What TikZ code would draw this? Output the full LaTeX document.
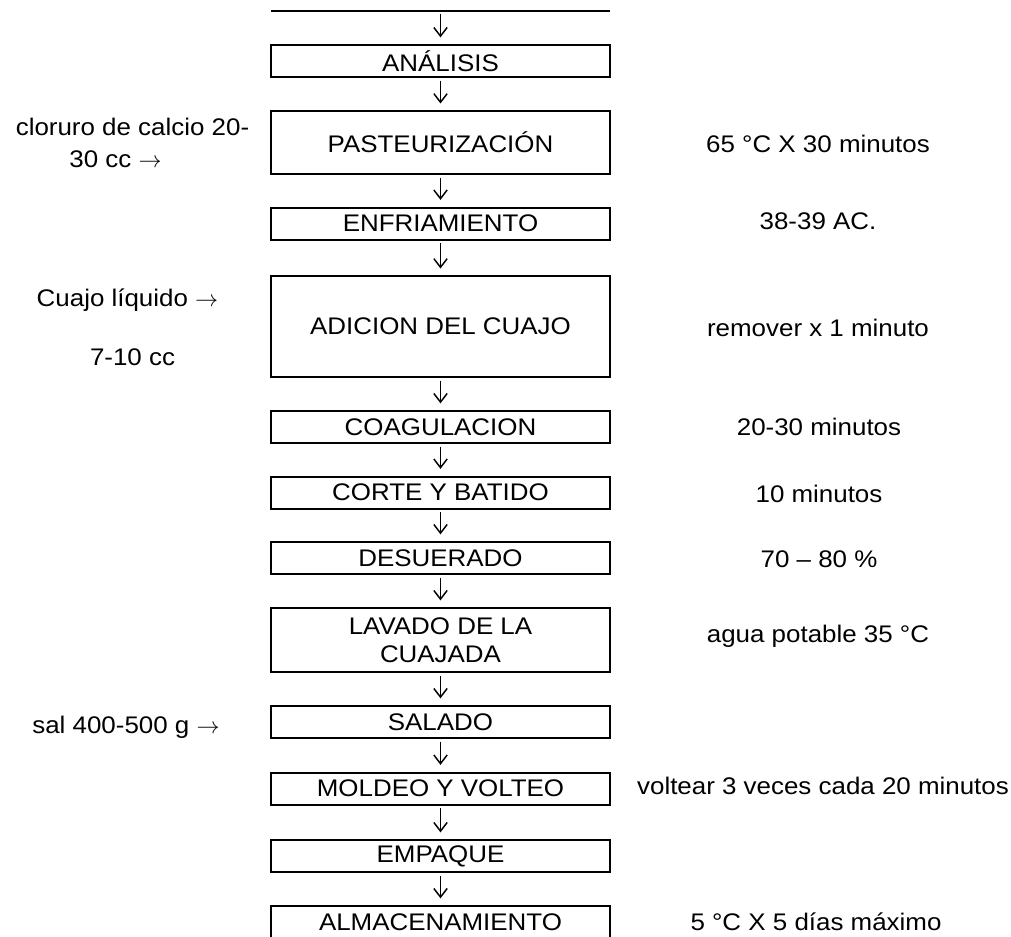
\documentclass[tikz,border=0pt]{standalone}
\usepackage{fontspec}
\setmainfont{Liberation Sans}[FakeStretch=1.08]
\usepackage{tikz}
\usetikzlibrary{arrows.meta}

\tikzset{
    paso/.style={draw, line width=1.5pt, minimum width=254pt, minimum height=24pt, inner sep=0pt, align=center},
    flecha/.style={-{Straight Barb[length=6.5pt, width=10pt]}, line width=1.1pt, shorten <=2pt, shorten >=5pt},
    nota/.style={inner sep=0pt, align=center}
}

\begin{document}
\begin{tikzpicture}[x=0.75pt, y=-0.75pt, font=\fontsize{18}{21}\selectfont]
\useasboundingbox (0,0) rectangle (1011,936);
% cadena de pasos
\draw[line width=1.5pt] (271,11) -- (610,11);
\coordinate (inicio) at (440.5,11);
\node[paso] (analisis) at (440.5,61) {ANÁLISIS};
\node[paso, minimum height=47pt] (pasteur) at (440.5,142.5) {PASTEURIZACIÓN};
\node[paso] (enfriam) at (440.5,223.5) {ENFRIAMIENTO};
\node[paso, minimum height=75.5pt] (cuajo) at (440.5,326.5) {ADICION DEL CUAJO};
\node[paso] (coagul) at (440.5,427) {COAGULACION};
\node[paso] (corte) at (440.5,492.5) {CORTE Y BATIDO};
\node[paso] (desuer) at (440.5,558) {DESUERADO};
\node[paso, minimum height=48pt] (lavado) at (440.5,640) {LAVADO DE LA\\CUAJADA};
\node[paso] (salado) at (440.5,722) {SALADO};
\node[paso] (moldeo) at (440.5,788.5) {MOLDEO Y VOLTEO};
\node[paso] (empaque) at (440.5,856) {EMPAQUE};
\node[paso] (almacen) at (440.5,922) {ALMACENAMIENTO};
\foreach \a/\b in {inicio/analisis, analisis/pasteur, pasteur/enfriam, enfriam/cuajo,
    cuajo/coagul, coagul/corte, corte/desuer, desuer/lavado, lavado/salado,
    salado/moldeo, moldeo/empaque, empaque/almacen} {
    \draw[flecha] (\a) -- (\b);
}
% insumos
\node[nota] (calcio) at (132.5,127) {cloruro de calcio 20-};
\node[nota] (calcioB) at (115.5,159) {30 cc $\rightarrow$};
\node[nota] (liquido) at (127.5,300) {Cuajo líquido $\rightarrow$};
\node[nota] (dosis) at (132.5,357) {7-10 cc};
\node[nota] (sal) at (126,727) {sal 400-500 g $\rightarrow$};
% condiciones
\node[nota] (temp) at (818,144) {65 °C X 30 minutos};
\node[nota] (frio) at (818,221) {38-39 AC.};
\node[nota] (remover) at (818,328) {remover x 1 minuto};
\node[nota] (tcoag) at (819,427) {20-30 minutos};
\node[nota] (tcorte) at (819,494) {10 minutos};
\node[nota] (suero) at (819,559) {70 – 80 \%};
\node[nota] (agua) at (818,636) {agua potable 35 °C};
\node[nota] (voltear) at (823,786) {voltear 3 veces cada 20 minutos};
\node[nota] (dias) at (816,922) {5 °C X 5 días máximo};
\end{tikzpicture}
\end{document}
